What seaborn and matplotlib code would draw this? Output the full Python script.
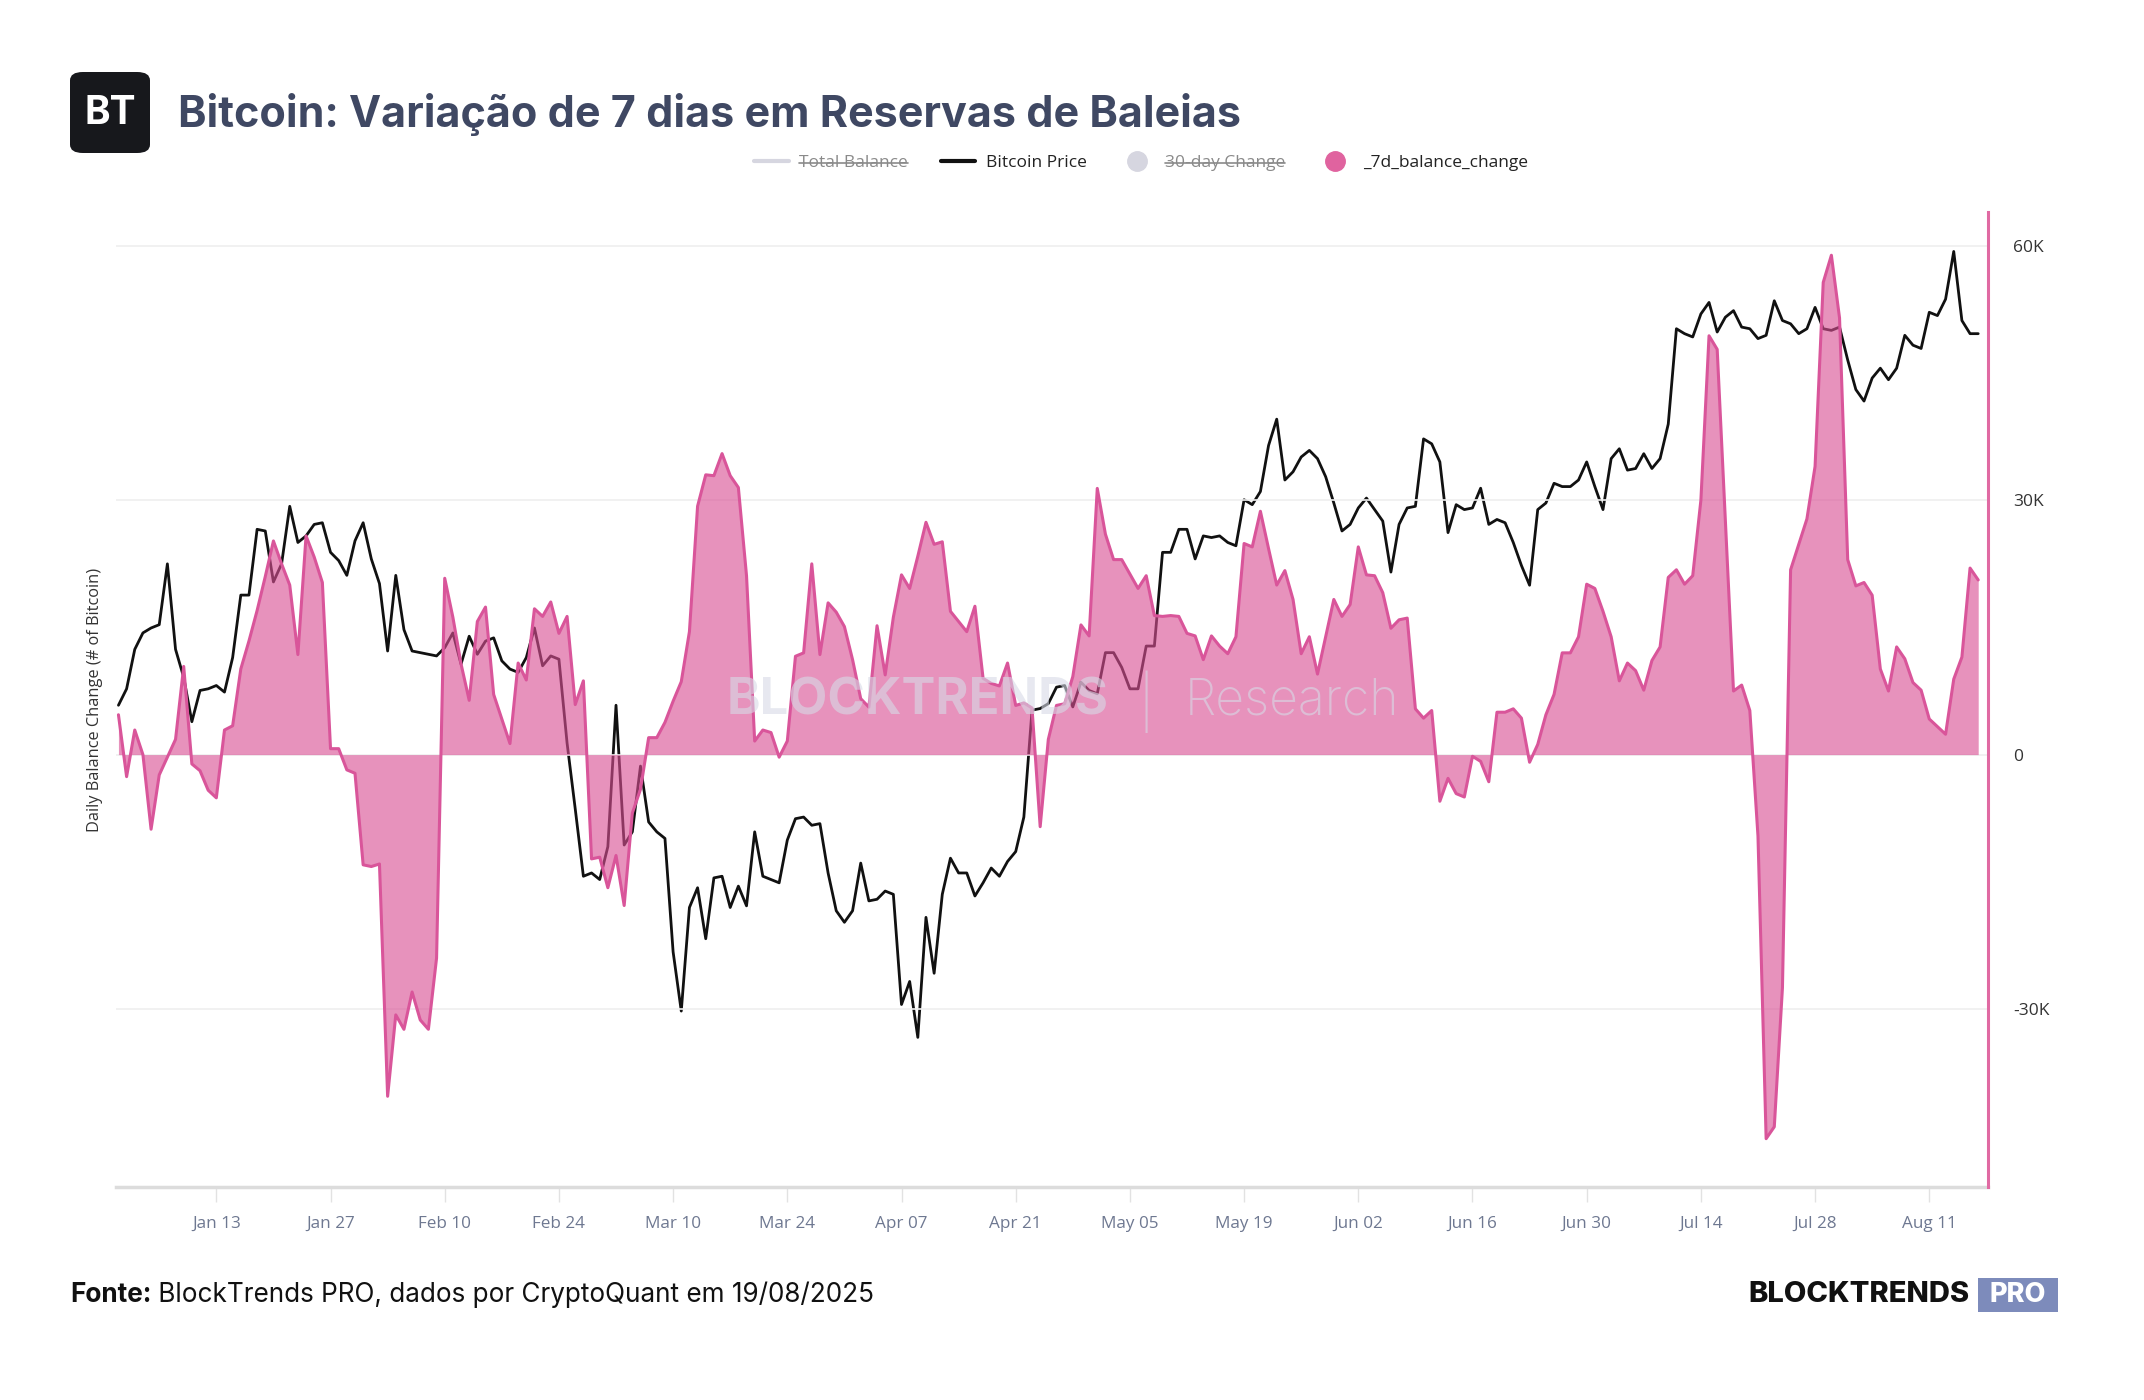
"""  Bitcoin whale reserves, 7-day change vs price  """
import matplotlib
matplotlib.use("Agg")
import matplotlib.pyplot as plt
import numpy as np
import pandas as pd
import seaborn as sns
from matplotlib.lines import Line2D
from matplotlib.patches import FancyBboxPatch, Rectangle


# ~~~~~~~~~  Data  ~~~~~~~~~ #
start_date = "2025-01-01"

# 7-day balance change of whale wallets, thousands of BTC (one value per day)
balance_change_k = [
    4.7, -2.6, 2.9, 0.0, -8.8, -2.4, -0.3, 1.8, 10.4, -1.1,
    -1.9, -4.2, -5.1, 2.9, 3.4, 10.1, 13.4, 17.0, 21.0, 25.2,
    22.5, 20.0, 11.8, 25.8, 23.3, 20.3, 0.7, 0.7, -1.8, -2.2,
    -13.0, -13.2, -12.9, -40.3, -30.7, -32.4, -28.0, -31.3, -32.4, -24.0,
    20.8, 16.2, 10.7, 6.4, 15.7, 17.4, 7.1, 4.2, 1.3, 10.8,
    8.8, 17.2, 16.3, 18.0, 14.3, 16.3, 5.9, 8.7, -12.3, -12.1,
    -15.7, -11.9, -17.8, -6.9, -4.1, 2.0, 2.0, 3.8, 6.3, 8.6,
    14.5, 29.3, 33.0, 32.9, 35.5, 32.9, 31.5, 21.1, 1.6, 2.9,
    2.6, -0.3, 1.6, 11.6, 12.0, 22.5, 11.8, 17.9, 16.8, 15.1,
    11.2, 6.6, 5.6, 15.2, 9.4, 16.2, 21.2, 19.6, 23.4, 27.4,
    24.8, 25.1, 16.9, 15.7, 14.5, 17.5, 9.0, 8.4, 8.1, 10.8,
    5.8, 6.1, 5.5, -8.5, 1.8, 5.8, 6.0, 9.2, 15.3, 14.0,
    31.4, 26.0, 23.0, 23.0, 21.3, 19.6, 21.1, 16.4, 16.3, 16.4,
    16.3, 14.3, 14.0, 11.2, 14.0, 12.8, 11.9, 13.9, 24.9, 24.5,
    28.7, 24.3, 20.0, 21.7, 18.3, 11.9, 13.9, 9.5, 13.9, 18.3,
    16.3, 17.7, 24.5, 21.2, 21.1, 19.1, 14.9, 15.9, 16.1, 5.4,
    4.3, 5.2, -5.5, -2.8, -4.6, -5.0, -0.2, -0.8, -3.2, 5.0,
    5.0, 5.4, 4.3, -0.9, 1.2, 4.7, 7.1, 12.0, 12.0, 13.9,
    20.1, 19.6, 16.9, 13.9, 8.7, 10.8, 9.9, 7.6, 11.1, 12.7,
    20.9, 21.8, 20.1, 21.1, 30.0, 49.4, 47.8, 27.7, 7.5, 8.2,
    5.2, -9.6, -45.3, -43.9, -27.5, 21.8, 24.8, 27.8, 34.0, 55.7,
    58.9, 51.5, 23.0, 19.9, 20.3, 18.8, 10.1, 7.5, 12.7, 11.3,
    8.5, 7.6, 4.2, 3.3, 2.4, 8.9, 11.5, 22.0, 20.6,
]

# Bitcoin price, thousands of USD (hidden axis)
btc_price_k = [
    96.3, 97.3, 99.7, 100.7, 101.0, 101.2, 104.9, 99.7, 98.0, 95.3,
    97.2, 97.3, 97.5, 97.1, 99.2, 103.0, 103.0, 107.0, 106.9, 103.8,
    104.9, 108.4, 106.2, 106.6, 107.3, 107.4, 105.6, 105.1, 104.2, 106.3,
    107.4, 105.2, 103.7, 99.6, 104.2, 100.9, 99.6, 99.5, 99.4, 99.3,
    99.8, 100.7, 98.8, 100.5, 99.4, 100.2, 100.4, 99.0, 98.5, 98.3,
    99.2, 101.0, 98.7, 99.3, 99.1, 94.0, 90.0, 85.9, 86.1, 85.7,
    87.7, 96.3, 87.8, 88.6, 92.6, 89.2, 88.6, 88.2, 81.3, 77.7,
    84.0, 85.2, 82.1, 85.8, 85.9, 84.0, 85.3, 84.1, 88.6, 85.9,
    85.7, 85.5, 88.1, 89.4, 89.5, 89.0, 89.1, 86.1, 83.8, 83.1,
    83.8, 86.7, 84.4, 84.5, 85.0, 84.8, 78.1, 79.5, 76.1, 83.4,
    80.0, 84.8, 87.0, 86.1, 86.1, 84.7, 85.5, 86.4, 85.9, 86.8,
    87.4, 89.5, 96.0, 96.1, 96.4, 97.4, 97.5, 96.2, 97.7, 97.2,
    97.0, 99.5, 99.5, 98.6, 97.3, 97.3, 99.9, 99.9, 105.6, 105.6,
    107.0, 107.0, 105.2, 106.6, 106.5, 106.6, 106.2, 106.0, 108.8, 108.5,
    109.3, 112.1, 113.7, 110.0, 110.5, 111.4, 111.8, 111.3, 110.2, 108.6,
    106.9, 107.3, 108.3, 108.9, 108.2, 107.5, 104.4, 107.3, 108.3, 108.4,
    112.5, 112.2, 111.1, 106.8, 108.5, 108.2, 108.3, 109.5, 107.3, 107.6,
    107.4, 106.2, 104.8, 103.6, 108.2, 108.6, 109.8, 109.6, 109.6, 110.0,
    111.1, 109.6, 108.2, 111.3, 111.9, 110.6, 110.7, 111.6, 110.7, 111.3,
    113.4, 119.2, 118.9, 118.7, 120.1, 120.8, 119.0, 119.9, 120.3, 119.3,
    119.2, 118.6, 118.8, 120.9, 119.7, 119.5, 118.9, 119.2, 120.5, 119.2,
    119.1, 119.3, 117.3, 115.5, 114.8, 116.2, 116.8, 116.1, 116.8, 118.8,
    118.2, 118.0, 120.2, 120.0, 121.0, 123.9, 119.7, 118.9, 118.9,
]

tick_dates = ["2025-01-13", "2025-01-27", "2025-02-10", "2025-02-24",
              "2025-03-10", "2025-03-24", "2025-04-07", "2025-04-21",
              "2025-05-05", "2025-05-19", "2025-06-02", "2025-06-16",
              "2025-06-30", "2025-07-14", "2025-07-28", "2025-08-11"]
right_ticks = [-30000, 0, 30000, 60000]
right_tick_labels = ["-30K", "0", "30K", "60K"]
legend_labels = ["Total Balance", "Bitcoin Price", "30-day Change", "_7d_balance_change"]

# ~~~~~~~~~  Styling  ~~~~~~~~~ #
PINK_LINE = "#d9559a"
PINK_FILL = "#d94f94"
TITLE_COL = "#3f4863"

sns.set_theme(style="white")
plt.rcParams["font.family"] = ["Open Sans", "DejaVu Sans"]

df = pd.DataFrame({
    "date": pd.date_range(start_date, periods=len(balance_change_k), freq="D"),
    "change": np.array(balance_change_k) * 1000,
    "price": np.array(btc_price_k),
})

W, H = 2144, 1400
fig = plt.figure(figsize=(W / 100, H / 100), dpi=100)
ax = fig.add_axes([116 / W, 1 - 1187 / H, (1988 - 116) / W, (1187 - 212) / H])
ax2 = ax.twinx()  # pink series on top of the price line

# price line (hidden axis)
sns.lineplot(data=df, x="date", y="price", ax=ax, color="#111111", linewidth=2.0)
ax.set_ylim(67.0, 126.3)
ax.set_yticks([])
ax.set_ylabel("Daily Balance Change (# of Bitcoin)", fontsize=11.8, color="#333333", labelpad=9)
ax.set_xlabel("")

# 7d balance change area
ax2.fill_between(df["date"], 0, df["change"], color=PINK_FILL, alpha=0.62, linewidth=0, zorder=2)
sns.lineplot(data=df, x="date", y="change", ax=ax2, color=PINK_LINE, linewidth=2.2, zorder=3)
ax2.set_ylim(-51000, 64000)
ax2.set_yticks(right_ticks)
ax2.set_yticklabels(right_tick_labels)
ax2.set_ylabel("")
ax2.yaxis.grid(True, color="#efefef", linewidth=1.2, zorder=0)
ax2.tick_params(axis="y", length=0, pad=18, labelsize=12.5, labelcolor="#333333")

# x axis
ax.set_xlim(pd.Timestamp(start_date) - pd.Timedelta(days=0.3),
            pd.Timestamp(start_date) + pd.Timedelta(days=229.2))
xt = pd.to_datetime(tick_dates)
ax.set_xticks(xt)
ax.set_xticklabels([d.strftime("%b %d") for d in xt])
ax.tick_params(axis="x", length=11, width=1, color="#e2e2e2", pad=10,
               labelsize=12.3, labelcolor="#6e7891", bottom=True)

for name in ["top", "left", "right"]:
    ax.spines[name].set_visible(False)
    ax2.spines[name].set_visible(False)
ax2.spines["bottom"].set_visible(False)
ax.spines["bottom"].set_color("#dcdcdc")
ax.spines["bottom"].set_linewidth(2.5)
ax2.spines["right"].set_visible(True)
ax2.spines["right"].set_color("#e06aa3")
ax2.spines["right"].set_linewidth(2.2)

# watermark
wm = dict(transform=ax2.transAxes, ha="center", va="center", color="#d7dae6",
          alpha=0.6, zorder=5, family=["Inter", "DejaVu Sans"])
ax2.text(0.428, 0.498, "BLOCKTRENDS", fontsize=36.5, fontweight="bold", **wm)
ax2.text(0.550, 0.498, "|", fontsize=37, fontweight="light", **wm)
ax2.text(0.628, 0.498, "Research", fontsize=36, fontweight="light", **wm)

# header: logo + title
logo = FancyBboxPatch((70 / W, 1 - 153 / H), 80 / W, 81 / H,
                      boxstyle="round,pad=0,rounding_size=0.006",
                      transform=fig.transFigure, facecolor="#17181c", edgecolor="none")
fig.add_artist(logo)
fig.text(110 / W, 1 - 113 / H, "BT", ha="center", va="center", color="white",
         fontsize=28, fontweight="bold", family=["Inter", "DejaVu Sans"])
fig.text(178 / W, 1 - 114 / H, "Bitcoin: Variação de 7 dias em Reservas de Baleias",
         ha="left", va="center", color=TITLE_COL, fontsize=31, fontweight="bold",
         family=["Inter", "DejaVu Sans"])

# legend
handles = [
    Line2D([], [], color="#d6d6e0", linewidth=3),
    Line2D([], [], color="#111111", linewidth=3),
    Line2D([], [], color="#d6d6e0", marker="o", linestyle="none", markersize=14),
    Line2D([], [], color="#e0639f", marker="o", linestyle="none", markersize=14),
]
leg = fig.legend(handles, legend_labels, loc="center", bbox_to_anchor=(1141 / W, 1 - 163 / H),
                 ncol=4, frameon=False, fontsize=12.5, handlelength=2.0,
                 columnspacing=1.9, handletextpad=0.6)
for i, t in enumerate(leg.get_texts()):
    t.set_color("#8a8a8a" if i in (0, 2) else "#222222")

# footer
f1 = fig.text(70 / W, 1 - 1295 / H, "Fonte:", ha="left", va="center", fontsize=18.8,
              fontweight="bold", color="#111111", family=["Inter", "DejaVu Sans"])
fig.text(1970 / W, 1 - 1295 / H, "BLOCKTRENDS", ha="right", va="center", fontsize=21,
         fontweight="heavy", color="#111111", family=["Inter", "DejaVu Sans"])
fig.add_artist(Rectangle((1978 / W, 1 - 1312 / H), 80 / W, 34 / H, transform=fig.transFigure,
                         facecolor="#7d8bbb", edgecolor="none"))
fig.text(2018 / W, 1 - 1295 / H, "PRO", ha="center", va="center", fontsize=19.5,
         fontweight="heavy", color="white", family=["Inter", "DejaVu Sans"])

# things that need the rendered text sizes: strike-through and footer continuation
fig.canvas.draw()
inv = fig.transFigure.inverted()
for i in (0, 2):
    bb = leg.get_texts()[i].get_window_extent()
    (x0, y0), (x1, y1) = inv.transform([(bb.x0, bb.y0), (bb.x1, bb.y1)])
    ym = (y0 + y1) / 2
    fig.add_artist(Line2D([x0, x1], [ym, ym], transform=fig.transFigure,
                          color="#8a8a8a", linewidth=1.2))
bb = f1.get_window_extent()
fig.text(inv.transform((bb.x1, 0))[0], 1 - 1295 / H, " BlockTrends PRO, dados por CryptoQuant em 19/08/2025",
         ha="left", va="center", fontsize=18.8, color="#111111", family=["Inter", "DejaVu Sans"])

fig.savefig("out.png", dpi=100, facecolor="white")
